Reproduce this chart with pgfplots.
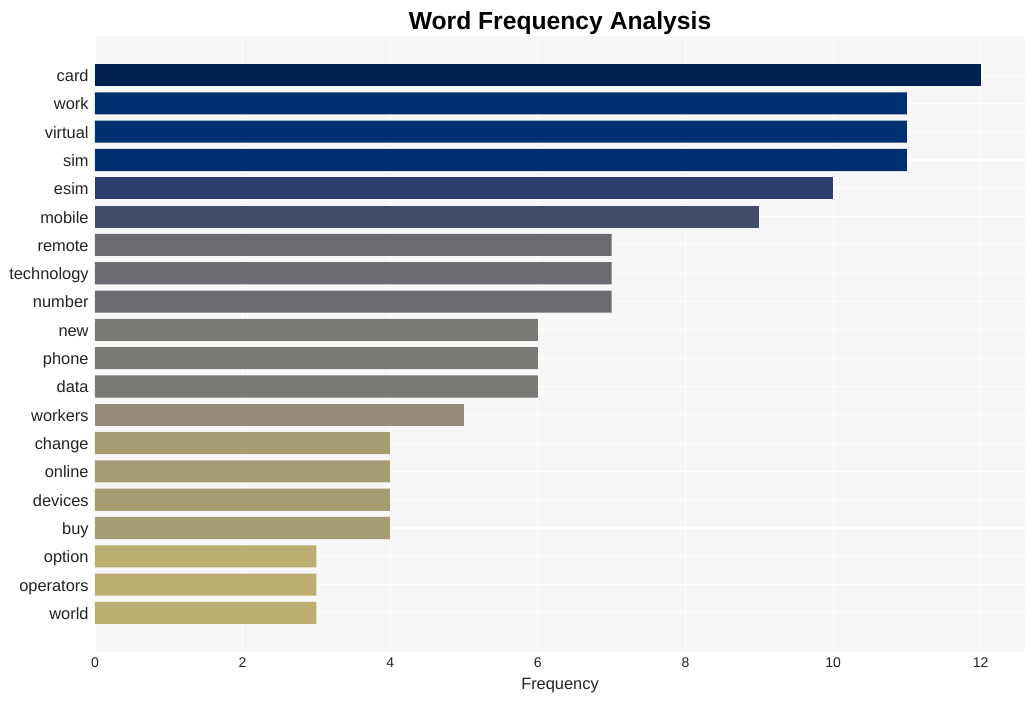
\documentclass[border=0pt]{standalone}
\usepackage{pgfplots}
\pgfplotsset{compat=1.18}
\usepackage{fontspec}
\setmainfont{Liberation Sans}

\definecolor{c1}{RGB}{0,32,80}
\definecolor{c2}{RGB}{0,48,111}
\definecolor{c3}{RGB}{42,63,110}
\definecolor{c4}{RGB}{68,78,107}
\definecolor{c5}{RGB}{107,108,113}
\definecolor{c6}{RGB}{123,122,119}
\definecolor{c7}{RGB}{148,139,120}
\definecolor{c8}{RGB}{165,156,116}
\definecolor{c9}{RGB}{188,174,112}
\definecolor{bg}{RGB}{247,247,247}
\definecolor{lab}{RGB}{34,34,34}

\begin{document}
\begin{tikzpicture}
\useasboundingbox (-71.25pt,-36.75pt) rectangle (705pt,489pt);
\begin{axis}[
    at={(0,0)}, anchor=south west,
    scale only axis,
    width=697.5pt, height=462pt,
    xbar, bar width=0.78, bar shift=0pt,
    y dir=reverse,
    xmin=0, xmax=12.6,
    ymin=-1.38, ymax=20.38,
    xtick={0,2,...,12},
    ytick={0,...,19},
    yticklabels={card,work,virtual,sim,esim,mobile,remote,technology,number,new,phone,data,workers,change,online,devices,buy,option,operators,world},
    axis background/.style={fill=bg},
    axis line style={draw=none},
    tick style={draw=none},
    grid=major,
    major grid style={white, line width=0.8pt},
    /pgf/number format/assume math mode=true,
    typeset ticklabels with strut,
    xticklabel style={font=\fontsize{10.5}{12}\selectfont, text=lab, yshift=0.5pt},
    yticklabel style={font=\fontsize{12.3}{14}\selectfont, text=lab, xshift=3pt, yshift=-2pt},
    xlabel={Frequency},
    xlabel style={font=\fontsize{12.3}{14}\selectfont, text=lab, yshift=2.5pt},
    title={\textbf{Word Frequency Analysis}},
    title style={font=\fontsize{18.5}{22}\selectfont, at={(0.5,1)}, anchor=base, yshift=-1pt},
]
\addplot[fill=c1, draw=none] coordinates {(12,0)};
\addplot[fill=c2, draw=none] coordinates {(11,1) (11,2) (11,3)};
\addplot[fill=c3, draw=none] coordinates {(10,4)};
\addplot[fill=c4, draw=none] coordinates {(9,5)};
\addplot[fill=c5, draw=none] coordinates {(7,6) (7,7) (7,8)};
\addplot[fill=c6, draw=none] coordinates {(6,9) (6,10) (6,11)};
\addplot[fill=c7, draw=none] coordinates {(5,12)};
\addplot[fill=c8, draw=none] coordinates {(4,13) (4,14) (4,15) (4,16)};
\addplot[fill=c9, draw=none] coordinates {(3,17) (3,18) (3,19)};
\end{axis}
\end{tikzpicture}
\end{document}
